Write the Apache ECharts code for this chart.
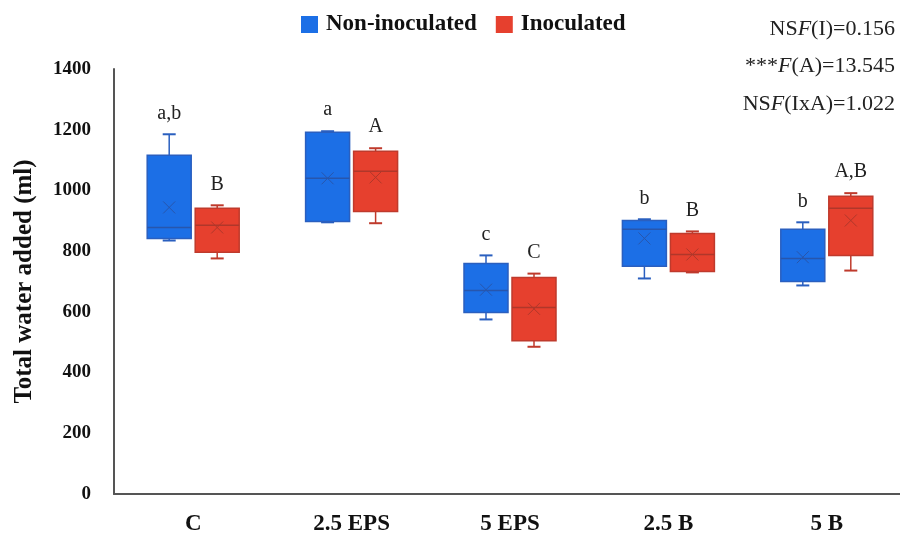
<!DOCTYPE html>
<html><head><meta charset="utf-8">
<script src="https://cdn.jsdelivr.net/npm/echarts@6/dist/echarts.min.js"></script>
<style>html,body{margin:0;padding:0;background:#fff}#c{width:900px;height:534px}</style>
</head><body><div id="c"></div>
<script>
const categories = ['C', '2.5 EPS', '5 EPS', '2.5 B', '5 B'];
// each row: [min, q1, median, q3, max, mean]
const nonInoculated = [
  [835, 842, 878, 1116, 1185, 944],
  [895, 898, 1040, 1192, 1195, 1040],
  [575, 598, 670, 759, 786, 673],
  [710, 750, 872, 901, 905, 842],
  [687, 700, 776, 872, 895, 780]
];
const inoculated = [
  [776, 796, 885, 941, 951, 878],
  [892, 931, 1063, 1129, 1139, 1043],
  [485, 505, 614, 713, 726, 610],
  [730, 733, 789, 858, 865, 789],
  [736, 786, 941, 981, 991, 901]
];
const nonLetters = ['a,b', 'a', 'c', 'b', 'b'];
const inocLetters = ['B', 'A', 'C', 'B', 'A,B'];
const statLines = [
  ['NS', 'F', '(I)=0.156'],
  ['***', 'F', '(A)=13.545'],
  ['NS', 'F', '(IxA)=1.022']
];
const yMin = 0, yMax = 1400, yInterval = 200;

const SERIF = '"Liberation Serif", "DejaVu Serif", serif';
const styles = {
  'Non-inoculated': { fill: '#1c6fe6', stroke: '#2a5fbf', dark: '#2756ad', offset: -24, letters: nonLetters },
  'Inoculated': { fill: '#e6402e', stroke: '#bf3a2c', dark: '#b0372a', offset: 24, letters: inocLetters }
};

function makeSeries(name, rows) {
  const st = styles[name];
  return {
    name: name,
    type: 'custom',
    itemStyle: { color: st.fill },
    data: rows.map((r, i) => [i].concat(r)),
    renderItem: function (params, api) {
      const cat = api.value(0);
      const x = api.coord([cat, 0])[0] + st.offset;
      const y = v => api.coord([cat, api.value(v)])[1];
      const yMinP = y(1), yQ1 = y(2), yMed = y(3), yQ3 = y(4), yMaxP = y(5), yMean = y(6);
      const bw = 44, cw = 13, xs = 6;
      const line = (x1, y1, x2, y2, c, w) => ({ type: 'line', shape: { x1, y1, x2, y2 }, style: { stroke: c, lineWidth: w } });
      return {
        type: 'group',
        children: [
          line(x, yMaxP, x, yQ3, st.stroke, 1.5),
          line(x, yQ1, x, yMinP, st.stroke, 1.5),
          line(x - cw / 2, yMaxP, x + cw / 2, yMaxP, st.stroke, 2),
          line(x - cw / 2, yMinP, x + cw / 2, yMinP, st.stroke, 2),
          { type: 'rect', shape: { x: x - bw / 2, y: yQ3, width: bw, height: yQ1 - yQ3 },
            style: { fill: st.fill, stroke: st.stroke, lineWidth: 1.5 } },
          line(x - bw / 2, yMed, x + bw / 2, yMed, st.dark, 1.5),
          line(x - xs, yMean - xs, x + xs, yMean + xs, st.dark, 1),
          line(x - xs, yMean + xs, x + xs, yMean - xs, st.dark, 1),
          { type: 'text', x: x, y: yMaxP - 21,
            style: { text: st.letters[params.dataIndex], fill: '#222', font: '20px ' + SERIF,
                     textAlign: 'center', textVerticalAlign: 'middle' } }
        ]
      };
    }
  };
}

const chart = echarts.init(document.getElementById('c'));
chart.setOption({
  animation: false,
  backgroundColor: '#fff',
  grid: { left: 114, top: 69, bottom: 40, width: 792, containLabel: false, outerBoundsMode: 'none' },
  legend: {
    left: 296, top: 8,
    itemWidth: 17, itemHeight: 17, itemGap: 19,
    icon: 'rect',
    textStyle: { fontFamily: SERIF, fontWeight: 'bold', fontSize: 23, color: '#111', padding: [0, 0, 0, 3] },
    data: [
      { name: 'Non-inoculated', itemStyle: { color: styles['Non-inoculated'].fill } },
      { name: 'Inoculated', itemStyle: { color: styles['Inoculated'].fill } }
    ]
  },
  xAxis: {
    type: 'category', data: categories, boundaryGap: true,
    axisLine: { lineStyle: { color: '#555', width: 2 } },
    axisTick: { show: false },
    axisLabel: { fontFamily: SERIF, fontWeight: 'bold', fontSize: 23, color: '#111', margin: 19 }
  },
  yAxis: {
    type: 'value', min: yMin, max: yMax, interval: yInterval,
    name: 'Total water added (ml)', nameLocation: 'middle', nameGap: 77,
    nameTextStyle: { fontFamily: SERIF, fontWeight: 'bold', fontSize: 25, color: '#111' },
    axisLine: { show: true, lineStyle: { color: '#555', width: 2 } },
    axisTick: { show: false },
    splitLine: { show: false },
    axisLabel: { fontFamily: SERIF, fontWeight: 'bold', fontSize: 19, color: '#111', margin: 23,
                 formatter: v => String(v) }
  },
  graphic: statLines.map((s, i) => ({
    type: 'text', right: 5, top: 18 + i * 37.5,
    style: {
      text: '{n|' + s[0] + '}{i|' + s[1] + '}{n|' + s[2] + '}',
      rich: {
        n: { fontFamily: SERIF, fontSize: 22, fill: '#222', color: '#222' },
        i: { fontFamily: SERIF, fontSize: 22, fontStyle: 'italic', fill: '#222', color: '#222' }
      }
    }
  })),
  series: [
    makeSeries('Non-inoculated', nonInoculated),
    makeSeries('Inoculated', inoculated)
  ]
});
</script>
</body></html>
